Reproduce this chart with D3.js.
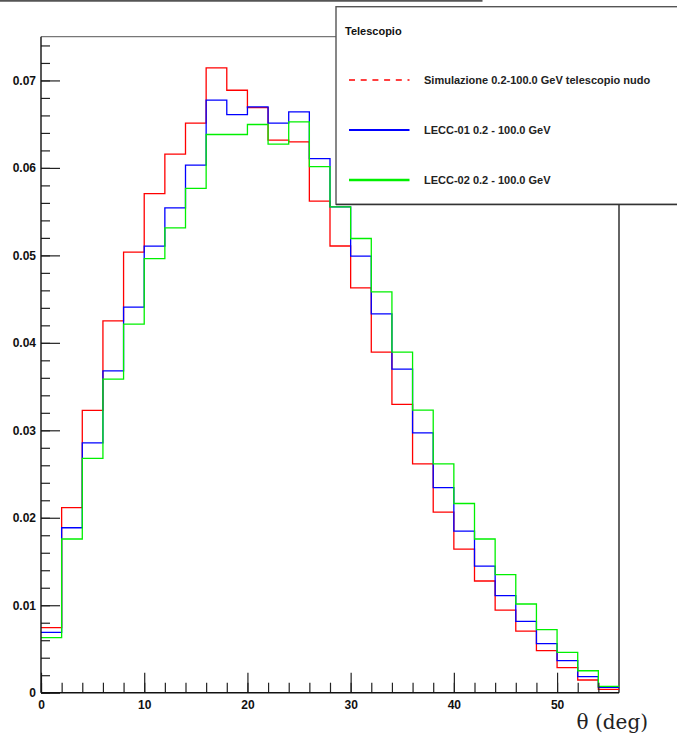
<!DOCTYPE html>
<html>
<head>
<meta charset="utf-8">
<script src="https://cdn.jsdelivr.net/npm/d3@7"></script>
<style>
  html, body { margin: 0; padding: 0; background: #fff; }
  svg { display: block; }
  text { font-family: "Liberation Sans", Arial, Helvetica, sans-serif; }
</style>
</head>
<body>
<svg id="chart" width="677" height="737"></svg>
<script>
// Bin edges: theta from 0 to 56 degrees in 2-degree bins
const binLowEdges = d3.range(0, 56, 2);
const thetaMax = 56;

// Normalised counts per bin
const simNudo = [0.00743, 0.02115, 0.03227, 0.04251, 0.05037, 0.05707, 0.06157, 0.06511,
                 0.07143, 0.06888, 0.06690, 0.06317, 0.06297, 0.05621, 0.05107, 0.04629,
                 0.03894, 0.03296, 0.02617, 0.02065, 0.01642, 0.01277, 0.00945, 0.00705,
                 0.00480, 0.00286, 0.00145, 0.00039];
const lecc01 = [0.00690, 0.01886, 0.02857, 0.03680, 0.04408, 0.05105, 0.05543, 0.06031,
                0.06774, 0.06610, 0.06697, 0.06511, 0.06640, 0.06107, 0.05555, 0.04991,
                0.04331, 0.03700, 0.02971, 0.02345, 0.01848, 0.01448, 0.01109, 0.00816,
                0.00560, 0.00366, 0.00183, 0.00062];
const lecc02 = [0.00629, 0.01757, 0.02679, 0.03585, 0.04214, 0.04963, 0.05314, 0.05765,
                0.06382, 0.06382, 0.06496, 0.06271, 0.06526, 0.06015, 0.05554, 0.05193,
                0.04583, 0.03894, 0.03231, 0.02617, 0.02163, 0.01757, 0.01349, 0.01014,
                0.00720, 0.00462, 0.00251, 0.00073];

// Axis ticks
const xMajorTicks = [0, 10, 20, 30, 40, 50];
const xTickLabels = ["0", "10", "20", "30", "40", "50"];
const xMinorTicks = d3.range(0, 56, 2);
const yMajorTicks = [0, 0.01, 0.02, 0.03, 0.04, 0.05, 0.06, 0.07];
const yTickLabels = ["0", "0.01", "0.02", "0.03", "0.04", "0.05", "0.06", "0.07"];
const yMinorTicks = d3.range(0, 0.0751, 0.002);
const yMax = 0.075;

// Legend
const legendTitle = "Telescopio";
const seriesNames = ["Simulazione 0.2-100.0 GeV telescopio nudo",
                     "LECC-01 0.2 - 100.0 GeV",
                     "LECC-02 0.2 - 100.0 GeV"];
const xTitle = "\u03b8 (deg)";

const series = [
  { values: simNudo, color: "#ff0000", dash: "6,5.7", legendWidth: 1.5 },
  { values: lecc01,  color: "#0000ff", dash: null,    legendWidth: 2.2 },
  { values: lecc02,  color: "#00f000", dash: null,    legendWidth: 2.6 }
];

const svg = d3.select("#chart");
const frame = { left: 41, top: 36.7, right: 619, bottom: 692.7 };

const x = d3.scaleLinear().domain([0, thetaMax]).range([frame.left, frame.right]);
const y = d3.scaleLinear().domain([0, yMax]).range([frame.bottom, frame.top]);

// thin rule across the top of the page
svg.append("line")
  .attr("x1", 0).attr("x2", 482.5).attr("y1", 0.8).attr("y2", 0.8)
  .attr("stroke", "#555").attr("stroke-width", 1.8);

// plot frame
svg.append("line").attr("x1", frame.left).attr("x2", frame.right)
  .attr("y1", frame.top).attr("y2", frame.top)
  .attr("stroke", "#777").attr("stroke-width", 1.2);
svg.append("line").attr("x1", frame.right).attr("x2", frame.right)
  .attr("y1", frame.top).attr("y2", frame.bottom)
  .attr("stroke", "#111").attr("stroke-width", 1.3);

// histograms as step outlines
const step = d3.line()
  .x(d => x(d[0]))
  .y(d => y(d[1]))
  .curve(d3.curveStepAfter);

series.forEach(s => {
  const pts = binLowEdges.map((e, i) => [e, s.values[i]]);
  pts.push([thetaMax, s.values[s.values.length - 1]]);
  svg.append("path")
    .datum(pts)
    .attr("d", step)
    .attr("fill", "none")
    .attr("stroke", s.color)
    .attr("stroke-width", 1.3);
});

// Y axis: minor then major ticks, drawn inward
const yMinor = svg.append("g").attr("transform", `translate(${frame.left},0)`)
  .call(d3.axisLeft(y).tickValues(yMinorTicks).tickSize(-9).tickSizeOuter(0).tickFormat(""));
yMinor.select(".domain").remove();
const yMajor = svg.append("g").attr("transform", `translate(${frame.left},0)`)
  .call(d3.axisLeft(y).tickValues(yMajorTicks).tickSize(-19).tickSizeOuter(0).tickPadding(5)
    .tickFormat((d, i) => yTickLabels[i]));
yMajor.select(".domain").remove();

// X axis: minor then major ticks, drawn inward
const xMinor = svg.append("g").attr("transform", `translate(0,${frame.bottom})`)
  .call(d3.axisBottom(x).tickValues(xMinorTicks).tickSize(-10).tickSizeOuter(0).tickFormat(""));
xMinor.select(".domain").remove();
const xMajor = svg.append("g").attr("transform", `translate(0,${frame.bottom})`)
  .call(d3.axisBottom(x).tickValues(xMajorTicks).tickSize(-20).tickSizeOuter(0).tickPadding(8)
    .tickFormat((d, i) => xTickLabels[i]));
xMajor.select(".domain").remove();

svg.selectAll(".tick line").attr("stroke", "#222").attr("stroke-width", 1.2);
svg.selectAll(".tick text")
  .attr("fill", "#111")
  .style("font-family", "'Liberation Sans', Arial, sans-serif")
  .style("font-size", "12px")
  .style("font-weight", "bold");

// axis lines
svg.append("line").attr("x1", frame.left).attr("x2", frame.left)
  .attr("y1", frame.top).attr("y2", frame.bottom)
  .attr("stroke", "#111").attr("stroke-width", 1.4);
svg.append("line").attr("x1", frame.left).attr("x2", frame.right)
  .attr("y1", frame.bottom).attr("y2", frame.bottom)
  .attr("stroke", "#111").attr("stroke-width", 1.4);

// x axis title
svg.append("text")
  .attr("x", 648).attr("y", 729)
  .attr("text-anchor", "end")
  .style("font-family", "'DejaVu Serif', 'Liberation Serif', serif")
  .style("font-size", "20px")
  .attr("fill", "#222")
  .text(xTitle);

// legend box (runs past the right edge of the page)
const leg = svg.append("g");
leg.append("rect")
  .attr("x", 336).attr("y", 6.7).attr("width", 360).attr("height", 197.5)
  .attr("fill", "#fff").attr("stroke", "#555").attr("stroke-width", 1.4);
leg.append("line")
  .attr("x1", 336).attr("x2", 700).attr("y1", 204.6).attr("y2", 204.6)
  .attr("stroke", "#333").attr("stroke-width", 1.4);

leg.append("text")
  .attr("x", 345).attr("y", 35)
  .style("font-size", "11px").style("font-weight", "bold")
  .attr("fill", "#111")
  .text(legendTitle);

const entryY = [80, 130, 180];
series.forEach((s, i) => {
  leg.append("line")
    .attr("x1", 349).attr("x2", 409.5)
    .attr("y1", entryY[i]).attr("y2", entryY[i])
    .attr("stroke", s.color)
    .attr("stroke-width", s.legendWidth)
    .attr("stroke-dasharray", s.dash);
  leg.append("text")
    .attr("x", 424).attr("y", entryY[i] + 4)
    .style("font-size", "11px").style("font-weight", "bold")
    .attr("fill", "#222")
    .text(seriesNames[i]);
});
</script>
</body>
</html>
